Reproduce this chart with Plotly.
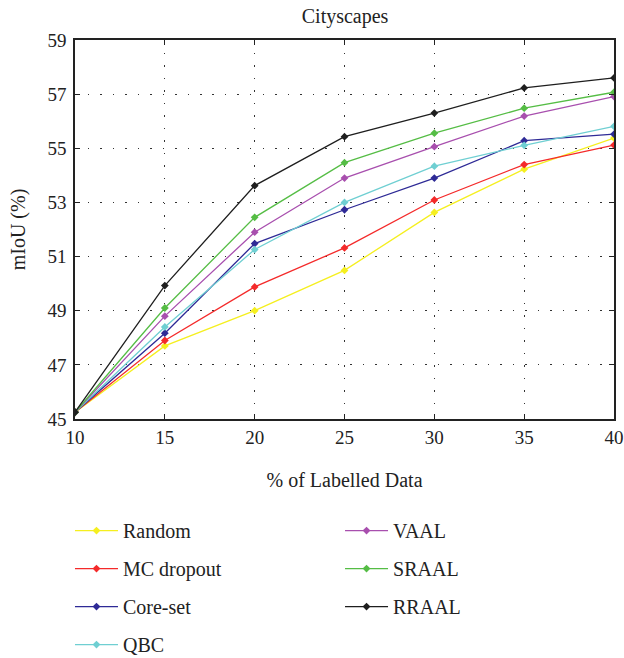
import plotly.graph_objects as go

x_labels = [10, 15, 20, 25, 30, 35, 40]
y_ticks = [45, 47, 49, 51, 53, 55, 57, 59]

random_v = [45.25, 47.7, 49.0, 50.49, 52.63, 54.23, 55.38]
mc_dropout = [45.25, 47.9, 49.88, 51.32, 53.09, 54.4, 55.12]
core_set = [45.25, 48.17, 51.48, 52.73, 53.9, 55.28, 55.52]
qbc = [45.25, 48.4, 51.26, 53.0, 54.34, 55.11, 55.81]
vaal = [45.25, 48.8, 51.9, 53.9, 55.06, 56.19, 56.91]
sraal = [45.25, 49.1, 52.45, 54.47, 55.56, 56.48, 57.07]
rraal = [45.25, 49.93, 53.62, 55.43, 56.3, 57.23, 57.6]

series = [
    ("Random", random_v, "#f5ef1f", "legend"),
    ("MC dropout", mc_dropout, "#f42a2a", "legend"),
    ("Core-set", core_set, "#2e2a96", "legend"),
    ("QBC", qbc, "#6fcfd2", "legend"),
    ("VAAL", vaal, "#a84fae", "legend2"),
    ("SRAAL", sraal, "#55bd45", "legend2"),
    ("RRAAL", rraal, "#1e1e1e", "legend2"),
]

FONT = "Liberation Serif"
W, H = 624, 658

fig = go.Figure()
for name, vals, color, lg in series:
    fig.add_trace(go.Scatter(
        x=x_labels, y=vals, name=name, mode="lines+markers",
        line=dict(color=color, width=1.3),
        marker=dict(symbol="diamond", size=6, color=color),
        legend=lg, legendgroup=name,
    ))

axis_common = dict(
    showline=True, linecolor="#222222", linewidth=1.5, mirror="ticks",
    ticks="inside", ticklen=5, tickcolor="#222222",
    showgrid=True, gridcolor="#333333", griddash="1.5px,11px", gridwidth=1.2,
    zeroline=False,
    tickfont=dict(family=FONT, size=19, color="#222222"),
)

fig.update_layout(
    width=W, height=H,
    margin=dict(l=75, r=10, t=40, b=239, autoexpand=False),
    paper_bgcolor="white", plot_bgcolor="white",
    font=dict(family=FONT, color="#222222"),
    title=dict(text="Cityscapes", x=0.553, xanchor="center", y=1 - 16 / H, yanchor="middle",
               font=dict(family=FONT, size=20, color="#222222")),
    xaxis=dict(range=[10, 40], tickvals=x_labels, **axis_common,
               title=dict(text="% of Labelled Data", font=dict(family=FONT, size=20), standoff=26)),
    yaxis=dict(range=[45, 59], tickvals=y_ticks, ticklabelstandoff=3, **axis_common,
               title=dict(text="mIoU (%)", font=dict(family=FONT, size=20), standoff=16)),
    legend=dict(x=-0.0093, xanchor="left", y=-0.243, yanchor="top", orientation="v",
                font=dict(family=FONT, size=20), tracegroupgap=9, itemwidth=43,
                bgcolor="rgba(0,0,0,0)"),
    legend2=dict(x=0.4917, xanchor="left", y=-0.243, yanchor="top", orientation="v",
                 font=dict(family=FONT, size=20), tracegroupgap=9, itemwidth=43,
                 bgcolor="rgba(0,0,0,0)"),
)

# Remove the browser's default 8px body margin so the figure fills the window
fig.write_html(
    "out.html",
    config={"displayModeBar": False},
    post_script="document.body.style.margin='0';document.body.style.overflow='hidden';",
)
